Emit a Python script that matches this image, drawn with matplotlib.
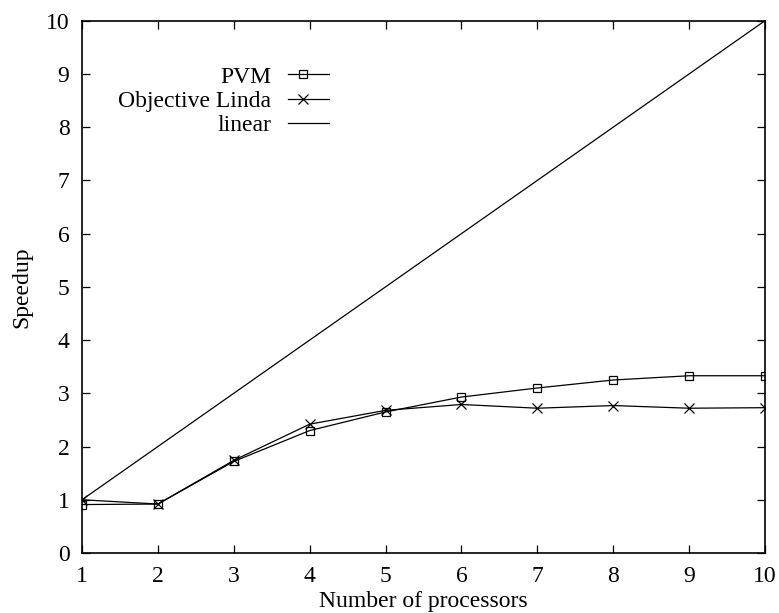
import matplotlib
matplotlib.use("Agg")
import matplotlib.pyplot as plt
from matplotlib.legend_handler import HandlerLine2DCompound

processors = [1, 2, 3, 4, 5, 6, 7, 8, 9, 10]
pvm = [0.91, 0.92, 1.72, 2.30, 2.65, 2.93, 3.10, 3.25, 3.33, 3.33]
linda = [1.00, 0.92, 1.74, 2.42, 2.68, 2.79, 2.72, 2.77, 2.72, 2.73]
linear = [1, 2, 3, 4, 5, 6, 7, 8, 9, 10]

plt.rcParams["font.family"] = ["Liberation Serif", "DejaVu Serif"]


class OffsetMarkerHandler(HandlerLine2DCompound):
    # gnuplot puts the key marker a bit left of the sample line's centre
    def get_xdata(self, legend, xdescent, ydescent, width, height, fontsize):
        xdata, _ = super().get_xdata(legend, xdescent, ydescent, width, height, fontsize)
        return xdata, [xdata[0] + 0.36 * (xdata[-1] - xdata[0])]


fig = plt.figure(figsize=(7.79, 6.13), dpi=100)
ax = fig.add_axes([82 / 779, 1 - 553 / 613, (765 - 82) / 779, (553 - 20.7) / 613])

lw = 0.9
ax.plot(processors, pvm, color="black", lw=lw, marker="s", ms=6, mfc="none",
        mew=0.9, label="PVM")
ax.plot(processors, linda, color="black", lw=lw, marker="x", ms=7, mew=0.9,
        label="Objective Linda")
ax.plot(processors, linear, color="black", lw=lw, label="linear")

ax.set_xlim(1, 10)
ax.set_ylim(0, 10)
ax.set_xticks(range(1, 11))
ax.set_yticks(range(0, 11))
ax.tick_params(direction="in", top=True, right=True, length=6, width=0.9,
               labelsize=17, pad=9)
for s in ax.spines.values():
    s.set_linewidth(1.2)

ax.set_xlabel("Number of processors", fontsize=17, labelpad=3)
ax.set_ylabel("Speedup", fontsize=17, labelpad=10)

leg = ax.legend(loc="upper right", bbox_to_anchor=(329 / 779, 1 - 66 / 613),
                bbox_transform=fig.transFigure, frameon=False, fontsize=17,
                markerfirst=False, handlelength=1.75, handletextpad=0.7,
                labelspacing=0.12, borderpad=0, borderaxespad=0, numpoints=1,
                handler_map={plt.Line2D: OffsetMarkerHandler()})
for t in leg.get_texts():
    t.set_ha("right")

fig.savefig("out.png", dpi=100)
